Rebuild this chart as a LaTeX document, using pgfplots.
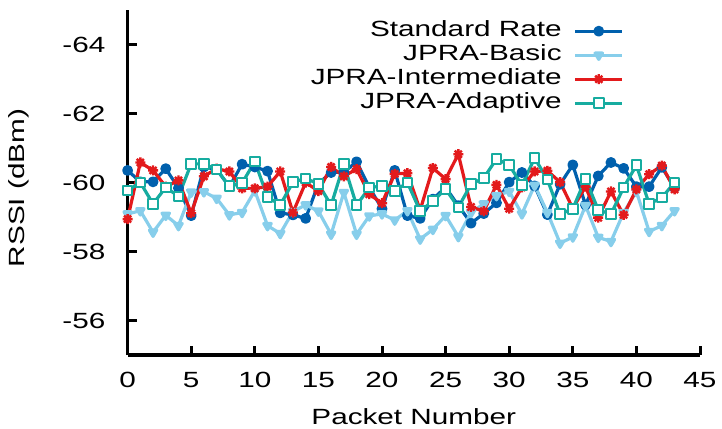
\documentclass[border=0pt]{standalone}
\usepackage{pgfplots}
\pgfplotsset{compat=1.18}
\usepackage{pgfplotstable}
\usepackage{fontspec}
\setmainfont{Liberation Sans}[FakeStretch=1.35]

\definecolor{stdblue}{RGB}{0,96,173}
\definecolor{basicblue}{RGB}{135,206,235}
\definecolor{interred}{RGB}{227,26,28}
\definecolor{adaptteal}{RGB}{23,172,160}

% gnuplot-style "*" point: a plus and a cross overlaid
\pgfdeclareplotmark{gpstar}{%
  \pgfpathmoveto{\pgfqpoint{-\pgfplotmarksize}{0pt}}%
  \pgfpathlineto{\pgfqpoint{\pgfplotmarksize}{0pt}}%
  \pgfpathmoveto{\pgfqpoint{0pt}{-\pgfplotmarksize}}%
  \pgfpathlineto{\pgfqpoint{0pt}{\pgfplotmarksize}}%
  \pgfpathmoveto{\pgfqpoint{-0.707\pgfplotmarksize}{-0.707\pgfplotmarksize}}%
  \pgfpathlineto{\pgfqpoint{0.707\pgfplotmarksize}{0.707\pgfplotmarksize}}%
  \pgfpathmoveto{\pgfqpoint{-0.707\pgfplotmarksize}{0.707\pgfplotmarksize}}%
  \pgfpathlineto{\pgfqpoint{0.707\pgfplotmarksize}{-0.707\pgfplotmarksize}}%
  \pgfusepathqstroke}

% RSSI per packet (dBm)
\pgfplotstableread{
x   std     basic   inter   adapt
0   -60.35  -59.09  -58.94  -59.77
1   -60.02  -59.18  -60.58  -60.00
2   -60.02  -58.56  -60.35  -59.38
3   -60.40  -59.05  -59.88  -59.86
4   -59.84  -58.75  -60.06  -59.60
5   -59.04  -59.72  -59.11  -60.54
6   -60.45  -59.73  -60.18  -60.54
7   -60.38  -59.54  -60.40  -60.38
8   -59.88  -59.06  -60.32  -59.89
9   -60.53  -59.13  -59.83  -59.98
10  -60.45  -59.76  -59.83  -60.61
11  -60.33  -58.75  -59.88  -59.58
12  -59.12  -58.52  -60.32  -59.35
13  -59.06  -59.16  -59.13  -60.01
14  -58.96  -59.35  -60.00  -60.12
15  -59.97  -59.17  -59.75  -59.96
16  -60.29  -58.50  -60.45  -59.34
17  -60.30  -59.71  -60.18  -60.53
18  -60.60  -58.50  -60.39  -59.34
19  -59.86  -59.03  -59.66  -59.85
20  -59.24  -59.09  -59.40  -59.90
21  -60.35  -58.91  -60.25  -59.75
22  -59.04  -59.18  -60.27  -60.00
23  -58.96  -58.36  -59.20  -59.17
24  -59.52  -58.64  -60.42  -59.46
25  -59.86  -59.04  -60.10  -59.81
26  -59.33  -58.43  -60.82  -59.28
27  -58.82  -59.13  -59.29  -59.95
28  -59.10  -59.38  -59.17  -60.13
29  -59.41  -59.62  -59.93  -60.68
30  -60.01  -59.74  -59.24  -60.51
31  -60.29  -59.09  -59.86  -59.92
32  -59.90  -59.92  -60.32  -60.71
33  -59.07  -59.13  -60.34  -60.09
34  -59.95  -58.24  -60.01  -59.08
35  -60.51  -58.42  -59.25  -59.24
36  -59.35  -59.33  -59.88  -60.10
37  -60.19  -58.41  -58.98  -59.21
38  -60.58  -58.29  -59.74  -59.08
39  -60.41  -59.13  -59.06  -59.86
40  -59.88  -59.74  -59.80  -60.50
41  -59.88  -58.58  -60.24  -59.38
42  -60.44  -58.75  -60.49  -59.56
43  -59.85  -59.18  -59.80  -60.00
}\rssidata

\begin{document}
\begin{tikzpicture}[font=\fontsize{22}{26}\selectfont]
\begin{axis}[
  name=ax,
  scale only axis,
  width=572.4pt, height=345pt,
  xmin=0, xmax=45,
  ymin=-65, ymax=-55,
  y dir=reverse,
  axis lines*=left,
  axis line style={line width=3.5pt, black},
  tick style={line width=3pt, black},
  major tick length=9pt,
  tick align=inside,
  xtick={0,5,...,45},
  ytick={-64,-62,-60,-58,-56},
  yticklabels={-64,-62,-60,-58,-56},
  /pgf/number format/assume math mode=true,
  xticklabel style={anchor=north, inner sep=0pt, yshift=-17pt},
  yticklabel style={anchor=east, inner sep=0pt, xshift=-22pt},
  xlabel={Packet Number},
  ylabel={RSSI (dBm)},
  xlabel style={at={(axis description cs:0.5,-0.154)}, anchor=north, inner sep=0pt},
  ylabel style={at={(axis description cs:-0.19,0.484)}, anchor=center, inner sep=0pt},
  legend style={draw=none, fill=none, at={(axis description cs:0.867,0.969)},
    anchor=north east, inner sep=0pt, outer sep=0pt,
    row sep=3pt, column sep=12pt,
    nodes={inner sep=0pt, text height=16pt, text depth=5pt}},
  legend cell align=right,
  legend plot pos=right,
  legend image code/.code={%
    \draw[mark repeat=2,mark phase=2] plot coordinates {(0pt,0pt) (23.5pt,0pt) (47pt,0pt)};},
]
\addplot[color=stdblue, line width=3.2pt, line join=round, mark=*, mark size=3.8pt]
  table[x=x, y=std]{\rssidata};
\addlegendentry{Standard Rate}
\addplot[color=basicblue, line width=3.2pt, line join=round, mark=triangle*, mark size=4.2pt,
  mark options={rotate=180}]
  table[x=x, y=basic]{\rssidata};
\addlegendentry{JPRA-Basic}
\addplot[color=interred, line width=3.2pt, line join=round, mark=gpstar, mark size=5pt,
  mark options={line width=2.4pt}]
  table[x=x, y=inter]{\rssidata};
\addlegendentry{JPRA-Intermediate}
\addplot[color=adaptteal, line width=3.2pt, line join=round, mark=square*, mark size=4.8pt,
  mark options={fill=white, line width=2pt}]
  table[x=x, y=adapt]{\rssidata};
\addlegendentry{JPRA-Adaptive}
\end{axis}
\pgfresetboundingbox
\path ([xshift=-127.6pt,yshift=-73pt]ax.south west) rectangle ([xshift=22pt,yshift=10pt]ax.north east);
\end{tikzpicture}
\end{document}
